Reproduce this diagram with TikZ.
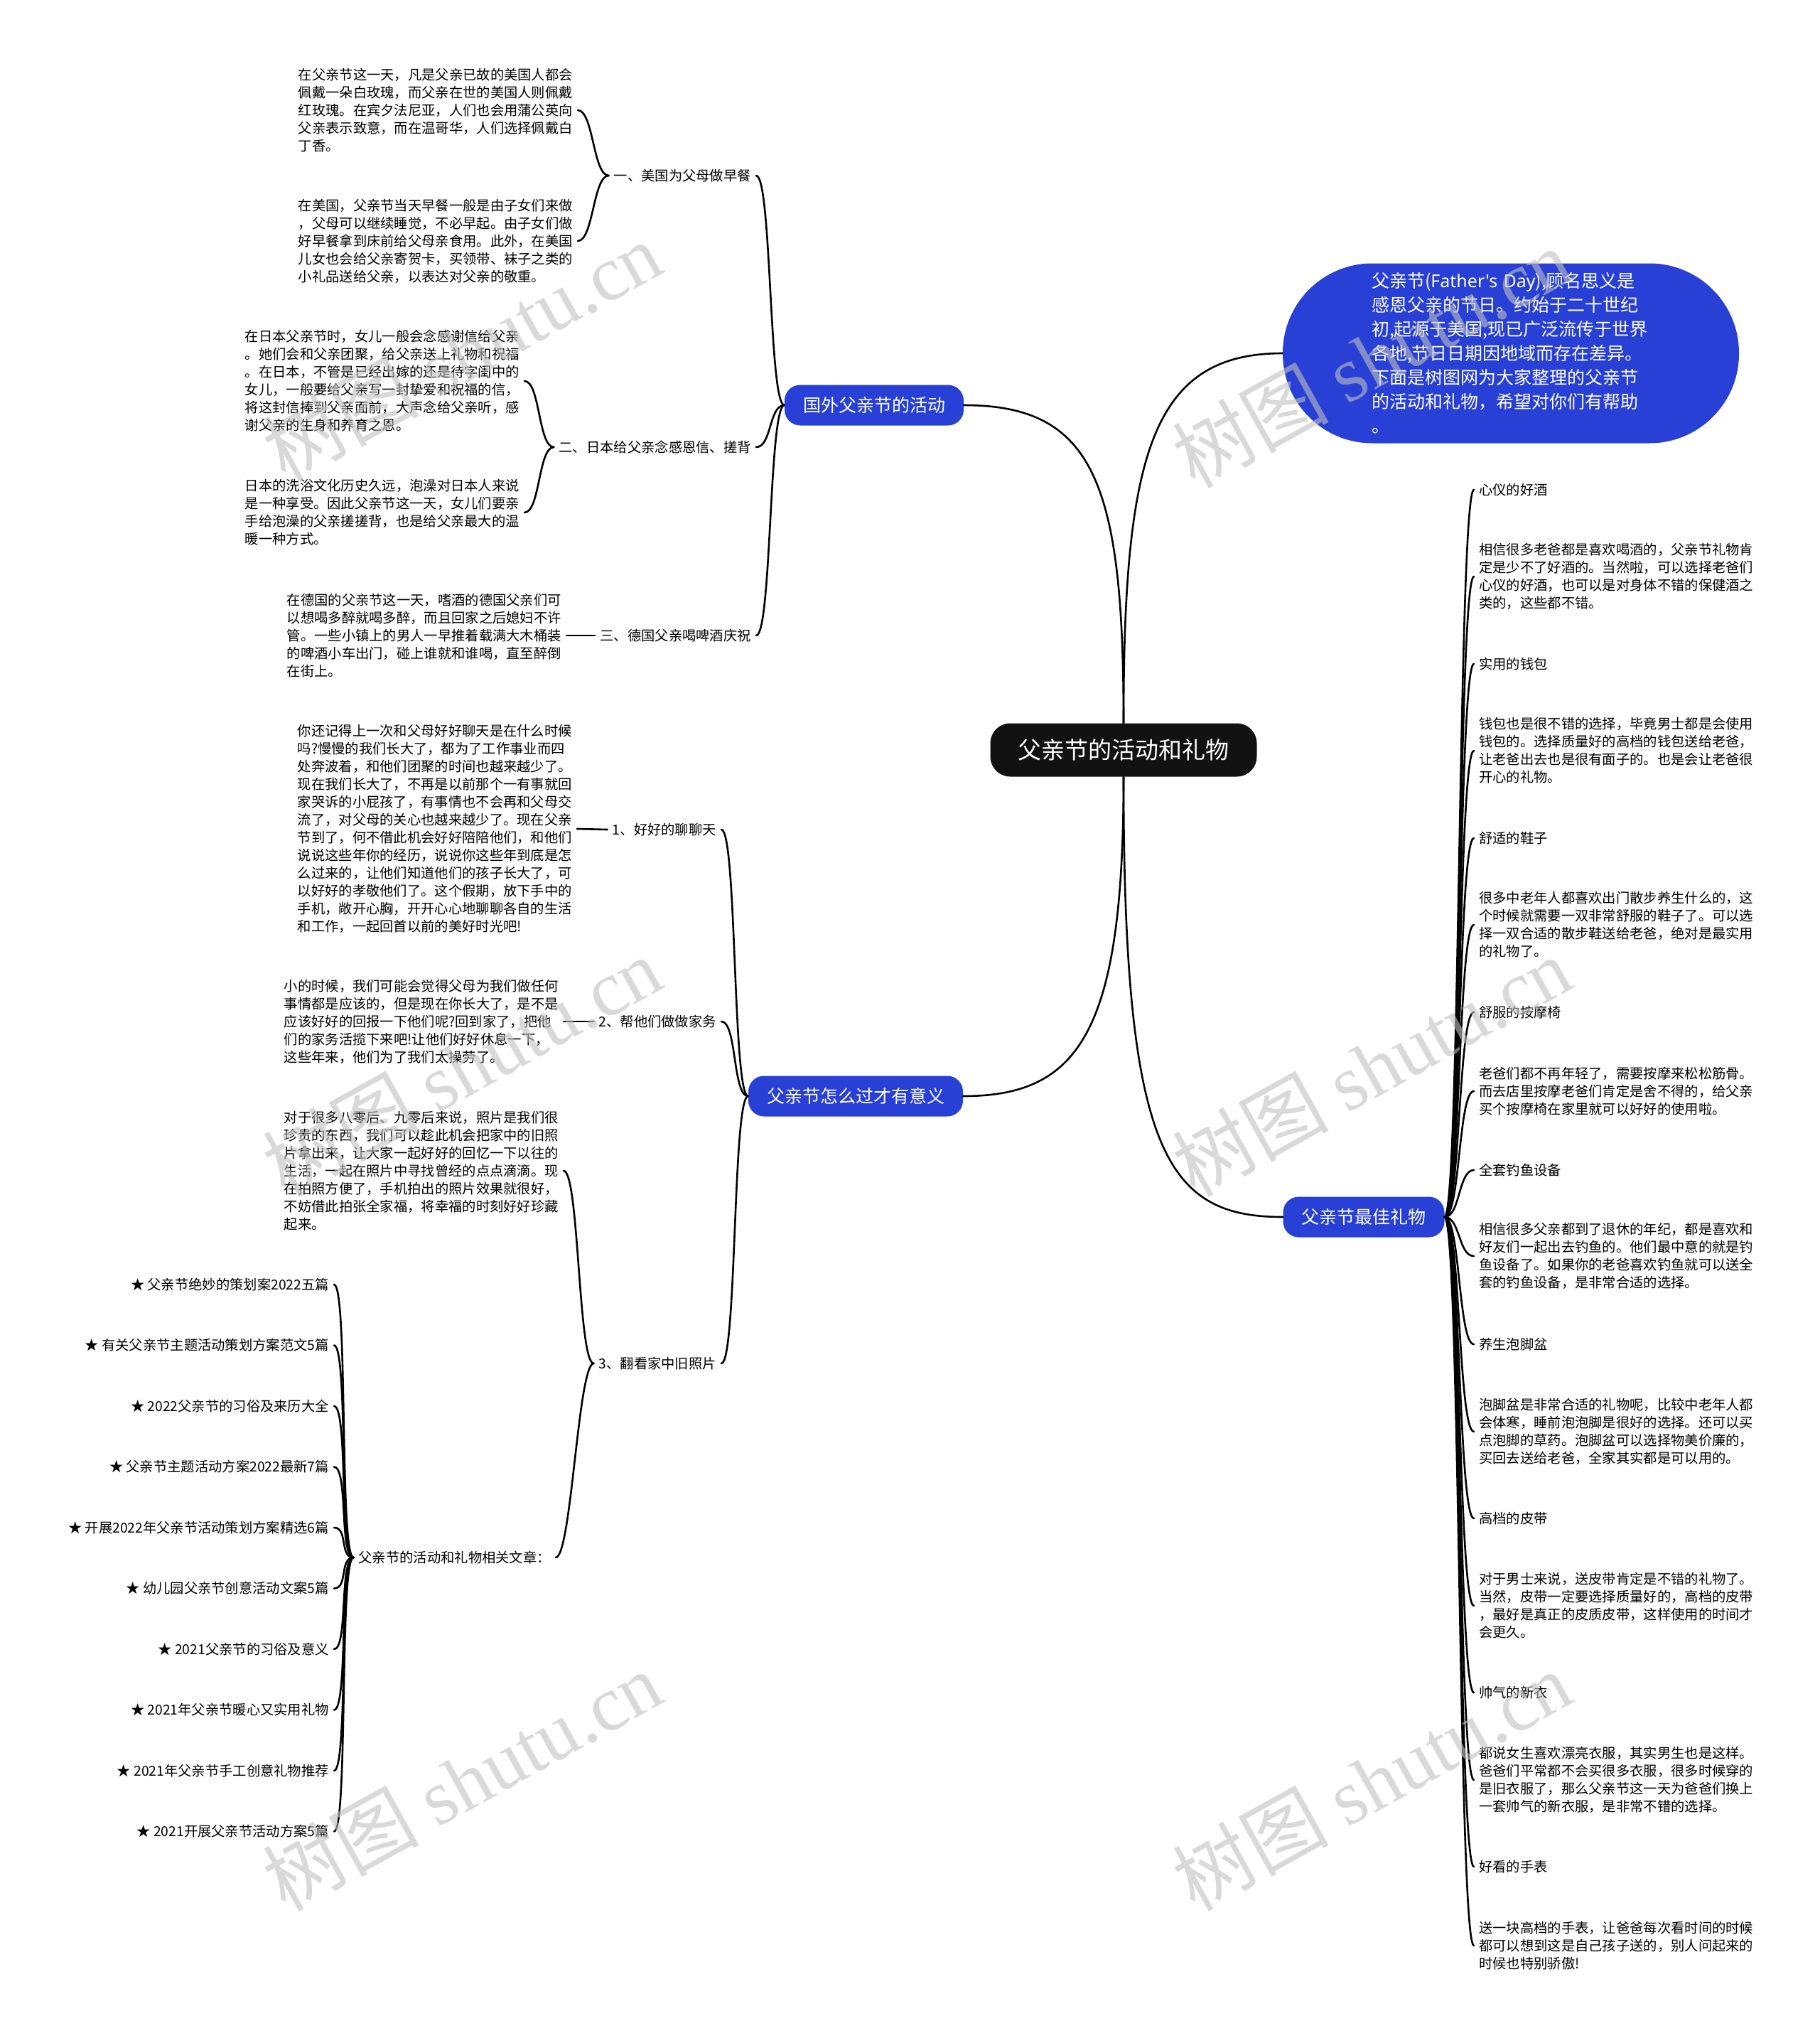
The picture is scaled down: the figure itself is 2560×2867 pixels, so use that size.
\documentclass[tikz,border=0pt]{standalone}
\usepackage{fontspec}
\setmainfont{Noto Sans CJK SC}
\newfontfamily\wmlatin{Liberation Serif}
\newfontfamily\latinsans{Noto Sans}
\definecolor{topicblue}{RGB}{40,64,214}
\definecolor{rootgray}{RGB}{18,18,18}

\begin{document}
\begin{tikzpicture}[x=1pt, y=-1pt,
  root/.style={fill=rootgray, text=white, rounded corners=28pt, minimum width=375pt, minimum height=75pt, inner sep=0pt, font=\fontsize{33}{40}\selectfont},
  topic/.style={fill=topicblue, text=white, rounded corners=22pt, minimum height=57pt, inner xsep=26pt, inner ysep=0pt, font=\fontsize{25}{30}\selectfont},
  intro/.style={fill=topicblue, text=white, rounded corners=126pt, minimum height=253pt, inner xsep=125pt, inner ysep=6pt, text width=392pt, align=left, font=\fontsize{25}{34}\selectfont},
  branch/.style={inner xsep=7pt, inner ysep=2pt, font=\fontsize{19.3}{25}\selectfont},
  leaf/.style={inner xsep=7pt, inner ysep=0pt, align=left, font=\fontsize{19.3}{25}\selectfont},
  link/.style={line width=2.6pt, line cap=round},
  wmark/.style={rotate=29, text=gray!50, opacity=0.6, font=\fontsize{110}{110}\selectfont}
]
\useasboundingbox (0,0) rectangle (2560,2867);

% root and main topics
\node[root] (root) at (1581,1055) {父亲节的活动和礼物};
\node[topic] (abroad) at (1230,570) {国外父亲节的活动};
\node[topic] (meaning) at (1204,1542) {父亲节怎么过才有意义};
\node[topic] (gifts) at (1919,1712) {父亲节最佳礼物};
\node[intro] (intro) at (2126,497) {父亲节({\latinsans Father\char"0027s Day}),顾名思义是\\感恩父亲的节日。约始于二十世纪\\初,起源于美国,现已广泛流传于世界\\各地,节日日期因地域而存在差异。\\下面是树图网为大家整理的父亲节\\的活动和礼物，希望对你们有帮助\\。};

\draw[link] (root.north) .. controls (1581,680) and (1540,570) .. (abroad.east);
\draw[link] (root.north) .. controls (1581,640) and (1620,497) .. (intro.west);
\draw[link] (root.south) .. controls (1581,1450) and (1520,1542) .. (meaning.east);
\draw[link] (root.south) .. controls (1581,1620) and (1640,1712) .. (gifts.west);

% abroad
\node[branch, anchor=east] (usa) at (1064,247) {一、美国为父母做早餐};
\node[branch, anchor=east] (japan) at (1064,629) {二、日本给父亲念感恩信、搓背};
\node[branch, anchor=east] (germany) at (1064,894) {三、德国父亲喝啤酒庆祝};

\node[leaf, anchor=east] (usa1) at (813,155) {在父亲节这一天，凡是父亲已故的美国人都会\\佩戴一朵白玫瑰，而父亲在世的美国人则佩戴\\红玫瑰。在宾夕法尼亚，人们也会用蒲公英向\\父亲表示致意，而在温哥华，人们选择佩戴白\\丁香。};
\node[leaf, anchor=east] (usa2) at (813,339) {在美国，父亲节当天早餐一般是由子女们来做\\，父母可以继续睡觉，不必早起。由子女们做\\好早餐拿到床前给父母亲食用。此外，在美国\\儿女也会给父亲寄贺卡，买领带、袜子之类的\\小礼品送给父亲，以表达对父亲的敬重。};
\node[leaf, anchor=east] (japan1) at (738,536) {在日本父亲节时，女儿一般会念感谢信给父亲\\。她们会和父亲团聚，给父亲送上礼物和祝福\\。在日本，不管是已经出嫁的还是待字闺中的\\女儿，一般要给父亲写一封挚爱和祝福的信，\\将这封信捧到父亲面前，大声念给父亲听，感\\谢父亲的生身和养育之恩。};
\node[leaf, anchor=east] (japan2) at (738,721) {日本的洗浴文化历史久远，泡澡对日本人来说\\是一种享受。因此父亲节这一天，女儿们要亲\\手给泡澡的父亲搓搓背，也是给父亲最大的温\\暖一种方式。};
\node[leaf, anchor=east] (germany1) at (797,894) {在德国的父亲节这一天，嗜酒的德国父亲们可\\以想喝多醉就喝多醉，而且回家之后媳妇不许\\管。一些小镇上的男人一早推着载满大木桶装\\的啤酒小车出门，碰上谁就和谁喝，直至醉倒\\在街上。};

\foreach \c in {usa,japan,germany}
  \draw[link] (abroad.west) .. controls +(-22,0) and +(22,0) .. (\c.east);
\foreach \c in {usa1,usa2}
  \draw[link] (usa.west) .. controls +(-22,0) and +(22,0) .. (\c.east);
\foreach \c in {japan1,japan2}
  \draw[link] (japan.west) .. controls +(-22,0) and +(22,0) .. (\c.east);
\draw[link] (germany.west) -- (germany1.east);

% meaning
\node[branch, anchor=east] (talk) at (1015,1167) {1、好好的聊聊天};
\node[branch, anchor=east] (chores) at (1015,1437) {2、帮他们做做家务};
\node[branch, anchor=east] (photos) at (1015,1918) {3、翻看家中旧照片};

\node[leaf, anchor=east] (talk1) at (812,1166) {你还记得上一次和父母好好聊天是在什么时候\\吗?慢慢的我们长大了，都为了工作事业而四\\处奔波着，和他们团聚的时间也越来越少了。\\现在我们长大了，不再是以前那个一有事就回\\家哭诉的小屁孩了，有事情也不会再和父母交\\流了，对父母的关心也越来越少了。现在父亲\\节到了，何不借此机会好好陪陪他们，和他们\\说说这些年你的经历，说说你这些年到底是怎\\么过来的，让他们知道他们的孩子长大了，可\\以好好的孝敬他们了。这个假期，放下手中的\\手机，敞开心胸，开开心心地聊聊各自的生活\\和工作，一起回首以前的美好时光吧!};
\node[leaf, anchor=east] (chores1) at (793,1437) {小的时候，我们可能会觉得父母为我们做任何\\事情都是应该的，但是现在你长大了，是不是\\应该好好的回报一下他们呢?回到家了，把他\\们的家务活揽下来吧!让他们好好休息一下，\\这些年来，他们为了我们太操劳了。};
\node[leaf, anchor=east] (photos1) at (793,1647) {对于很多八零后、九零后来说，照片是我们很\\珍贵的东西，我们可以趁此机会把家中的旧照\\片拿出来，让大家一起好好的回忆一下以往的\\生活，一起在照片中寻找曾经的点点滴滴。现\\在拍照方便了，手机拍出的照片效果就很好，\\不妨借此拍张全家福，将幸福的时刻好好珍藏\\起来。};
\node[branch, anchor=east] (related) at (782,2191) {父亲节的活动和礼物相关文章：};

\foreach \txt [count=\k from 0] in {父亲节绝妙的策划案2022五篇, 有关父亲节主题活动策划方案范文5篇, 2022父亲节的习俗及来历大全, 父亲节主题活动方案2022最新7篇, 开展2022年父亲节活动策划方案精选6篇, 幼儿园父亲节创意活动文案5篇, 2021父亲节的习俗及意义, 2021年父亲节暖心又实用礼物, 2021年父亲节手工创意礼物推荐, 2021开展父亲节活动方案5篇}
  \node[branch, anchor=east] (art\k) at (470,1807+85.5*\k) {★ \txt};

\foreach \c in {talk,chores,photos}
  \draw[link] (meaning.west) .. controls +(-22,0) and +(22,0) .. (\c.east);
\draw[link] (talk.west) -- (talk1.east);
\draw[link] (chores.west) -- (chores1.east);
\foreach \c in {photos1,related}
  \draw[link] (photos.west) .. controls +(-22,0) and +(22,0) .. (\c.east);
\foreach \k in {0,...,9}
  \draw[link] (related.west) .. controls +(-20,0) and +(20,0) .. (art\k.east);

% gifts
\node[branch, anchor=west] (wine) at (2074,689) {心仪的好酒};
\node[leaf, anchor=west] (wine1) at (2074,811) {相信很多老爸都是喜欢喝酒的，父亲节礼物肯\\定是少不了好酒的。当然啦，可以选择老爸们\\心仪的好酒，也可以是对身体不错的保健酒之\\类的，这些都不错。};
\node[branch, anchor=west] (wallet) at (2074,934) {实用的钱包};
\node[leaf, anchor=west] (wallet1) at (2074,1056) {钱包也是很不错的选择，毕竟男士都是会使用\\钱包的。选择质量好的高档的钱包送给老爸，\\让老爸出去也是很有面子的。也是会让老爸很\\开心的礼物。};
\node[branch, anchor=west] (shoes) at (2074,1179) {舒适的鞋子};
\node[leaf, anchor=west] (shoes1) at (2074,1301) {很多中老年人都喜欢出门散步养生什么的，这\\个时候就需要一双非常舒服的鞋子了。可以选\\择一双合适的散步鞋送给老爸，绝对是最实用\\的礼物了。};
\node[branch, anchor=west] (chair) at (2074,1424) {舒服的按摩椅};
\node[leaf, anchor=west] (chair1) at (2074,1535) {老爸们都不再年轻了，需要按摩来松松筋骨。\\而去店里按摩老爸们肯定是舍不得的，给父亲\\买个按摩椅在家里就可以好好的使用啦。};
\node[branch, anchor=west] (fishing) at (2074,1646) {全套钓鱼设备};
\node[leaf, anchor=west] (fishing1) at (2074,1767) {相信很多父亲都到了退休的年纪，都是喜欢和\\好友们一起出去钓鱼的。他们最中意的就是钓\\鱼设备了。如果你的老爸喜欢钓鱼就可以送全\\套的钓鱼设备，是非常合适的选择。};
\node[branch, anchor=west] (footbath) at (2074,1891) {养生泡脚盆};
\node[leaf, anchor=west] (footbath1) at (2074,2014) {泡脚盆是非常合适的礼物呢，比较中老年人都\\会体寒，睡前泡泡脚是很好的选择。还可以买\\点泡脚的草药。泡脚盆可以选择物美价廉的，\\买回去送给老爸，全家其实都是可以用的。};
\node[branch, anchor=west] (belt) at (2074,2136) {高档的皮带};
\node[leaf, anchor=west] (belt1) at (2074,2259) {对于男士来说，送皮带肯定是不错的礼物了。\\当然，皮带一定要选择质量好的，高档的皮带\\，最好是真正的皮质皮带，这样使用的时间才\\会更久。};
\node[branch, anchor=west] (clothes) at (2074,2381) {帅气的新衣};
\node[leaf, anchor=west] (clothes1) at (2074,2504) {都说女生喜欢漂亮衣服，其实男生也是这样。\\爸爸们平常都不会买很多衣服，很多时候穿的\\是旧衣服了，那么父亲节这一天为爸爸们换上\\一套帅气的新衣服，是非常不错的选择。};
\node[branch, anchor=west] (watch) at (2074,2626) {好看的手表};
\node[leaf, anchor=west] (watch1) at (2074,2737) {送一块高档的手表，让爸爸每次看时间的时候\\都可以想到这是自己孩子送的，别人问起来的\\时候也特别骄傲!};

\foreach \c in {wine,wine1,wallet,wallet1,shoes,shoes1,chair,chair1,fishing,fishing1,footbath,footbath1,belt,belt1,clothes,clothes1,watch,watch1}
  \draw[link] (gifts.east) .. controls +(22,0) and +(-22,0) .. (\c.west);

% watermarks
\foreach \wx/\wy [count=\w] in {650/494, 1930/503, 650/1500, 1930/1500, 650/2505, 1930/2505}
  \node[wmark] (wm\w) at (\wx,\wy) {树图 {\wmlatin shutu.cn}};

\end{tikzpicture}
\end{document}
